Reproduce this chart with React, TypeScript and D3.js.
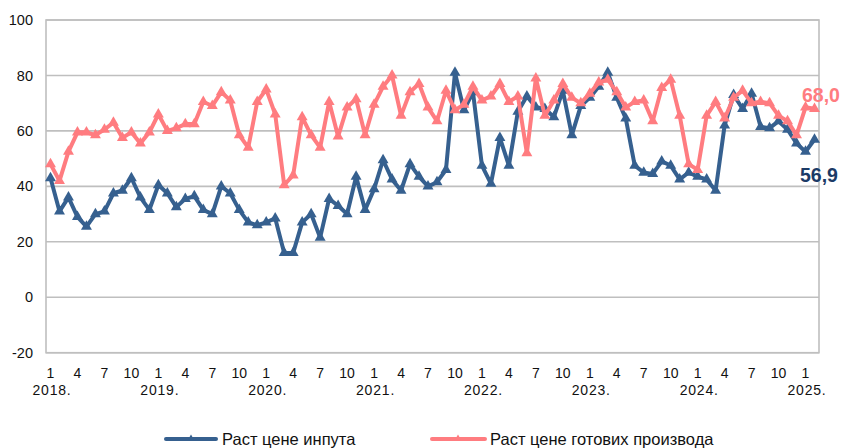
import React from "react";
import * as d3 from "d3";

// monthly values, Jan 2018 .. Feb 2025
const inputPrices = [
  43, 31, 36, 29, 25.5, 30, 31, 37.5, 38.5, 43, 36, 31.5,
  40.5, 37.5, 32.5, 35.5, 36.5, 31.5, 30, 40, 37.5, 31.5, 27, 26,
  27, 28.5, 16, 16, 27, 30, 21.5, 35.5, 33, 30, 43.5, 31.5,
  39, 49.5, 42.5, 38.5, 48, 43.5, 40, 41.5, 46, 81, 67.5, 74,
  47.5, 41, 57.5, 47.5, 67, 72.5, 68.5, 68, 65, 74.5, 58.5, 69,
  72, 76, 81, 72, 64.5, 47.5, 45, 44.5, 49, 47.5, 42.5, 45,
  43.5, 42.5, 38.5, 62, 73, 68, 73.5, 61.5, 61, 63.5, 60.5, 55.5,
  52.5, 56.9,
];
const outputPrices = [
  48, 42, 52.5, 59.5, 59.5, 58.5, 60.5, 63, 57.5, 59.5, 55.5, 59.5,
  66, 60, 61, 62.5, 62.5, 70.5, 69, 74, 71, 58.5, 54, 70.5,
  75, 66, 40.5, 44, 65, 58.5, 54, 70.5, 58, 68.5, 71.5, 58.5,
  69.5, 76, 80, 65.5, 74, 77, 68.5, 63.5, 74.5, 67.5, 69.5, 76,
  71, 72.5, 77, 70.5, 72.5, 52, 79, 65.5, 71, 77, 72, 70,
  73.5, 77.5, 78.5, 74, 68.5, 70.5, 71, 63.5, 75.5, 78.5, 65.5, 48,
  46, 65.5, 70.5, 64.5, 72, 74.5, 70, 70.5, 70, 65.5, 63.5, 58.5,
  68.5, 68.0,
];
const years = [2018, 2019, 2020, 2021, 2022, 2023, 2024, 2025];
const yTicks = [-20, 0, 20, 40, 60, 80, 100];
const seriesNames = ["Раст цене инпута", "Раст цене готових производа"];
const lastLabels = ["56,9", "68,0"];

const BLUE = "#36608F";
const PINK = "#FF7C80";
const NAVY = "#1B3A66";
const GRID = "#BFBFBF";
const FONT = "'Liberation Sans', Arial, sans-serif";

export default function App() {
  const W = 841, H = 448;
  const left = 46, right = 819, top = 20, bottom = 352.7;
  const idx = d3.range(inputPrices.length);
  const x = d3.scalePoint<number>().domain(idx).range([left, right]).padding(0.5);
  const y = d3.scaleLinear().domain([-20, 100]).range([bottom, top]);
  const line = d3.line<number>().x((_, i) => x(i)!).y((d) => y(d));
  const tri = d3.symbol(d3.symbolTriangle, 52)()!;
  const triSmall = d3.symbol(d3.symbolTriangle, 16)()!;

  const series = [
    { data: inputPrices, color: BLUE },
    { data: outputPrices, color: PINK },
  ];

  return (
    <svg width={W} height={H} style={{ position: "absolute", left: 0, top: 0, background: "#fff" }} fontFamily={FONT}>
      {/* gridlines */}
      {yTicks.map((t) => (
        <g key={t}>
          <line x1={left} x2={right} y1={y(t)} y2={y(t)} stroke={GRID} strokeWidth={1.6} />
          <text x={33} y={y(t)} dy="0.35em" textAnchor="end" fontSize={14.5} fill="#111">{t}</text>
        </g>
      ))}
      <rect x={left} y={top} width={right - left} height={bottom - top} fill="none" stroke={GRID} strokeWidth={1.6} />

      {/* x axis labels */}
      {idx.filter((i) => i % 3 === 0).map((i) => (
        <text key={"m" + i} x={x(i)} y={378} textAnchor="middle" fontSize={14} fill="#111">{(i % 12) + 1}</text>
      ))}
      {years.map((yr, k) => (
        <text key={yr} x={x(k * 12)! + 1.5} y={395} textAnchor="middle" fontSize={14} letterSpacing={0.8} fill="#111">{yr}.</text>
      ))}

      {/* series */}
      {series.map((s, si) => (
        <g key={si}>
          <path d={line(s.data)!} fill="none" stroke={s.color} strokeWidth={4} strokeLinejoin="round" />
          {s.data.map((d, i) => (
            <path key={i} d={tri} transform={`translate(${x(i)},${y(d)})`} fill={s.color} />
          ))}
        </g>
      ))}

      {/* end labels */}
      <text x={802} y={101.5} fontSize={19.5} fontWeight="bold" fill={PINK}>{lastLabels[1]}</text>
      <text x={800} y={181.5} fontSize={19.5} fontWeight="bold" fill={NAVY}>{lastLabels[0]}</text>

      {/* legend */}
      <g>
        <line x1={166} x2={216} y1={439} y2={439} stroke={BLUE} strokeWidth={4} strokeLinecap="round" />
        <path d={triSmall} transform="translate(191,438)" fill={BLUE} />
        <text x={222} y={445} fontSize={16.5} fill="#111">{seriesNames[0]}</text>
        <line x1={432} x2={485} y1={439} y2={439} stroke={PINK} strokeWidth={4} strokeLinecap="round" />
        <path d={triSmall} transform="translate(458,438)" fill={PINK} />
        <text x={490} y={445} fontSize={16.5} fill="#111">{seriesNames[1]}</text>
      </g>
    </svg>
  );
}
